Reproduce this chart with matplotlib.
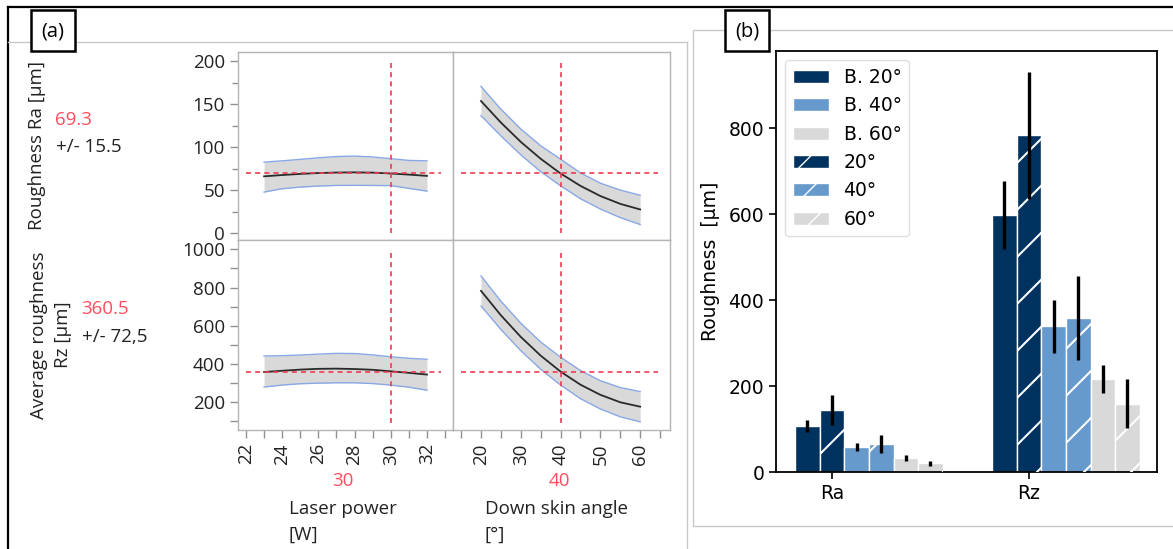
import numpy as np
import matplotlib.pyplot as plt
from matplotlib.lines import Line2D
from matplotlib.patches import Rectangle, Patch
from matplotlib.transforms import IdentityTransform
from matplotlib.ticker import MultipleLocator

# ---- panel (a): prediction profiler data ----
laser_power = [23, 24, 25, 26, 27, 28, 29, 30, 31, 32]
ra_lp_mean = [66.0, 67.5, 68.8, 69.8, 70.4, 70.6, 70.3, 69.3, 68.0, 66.5]
ra_lp_hi = [82.5, 84.0, 85.7, 87.5, 89.0, 89.5, 88.5, 86.5, 84.5, 84.0]
ra_lp_lo = [47.7, 51.6, 53.5, 54.7, 55.4, 55.5, 55.4, 55.2, 52.0, 48.8]
rz_lp_mean = [358, 365, 371, 375, 376, 374, 370, 362, 354, 345]
rz_lp_hi = [442, 444, 447, 452, 456, 455, 448, 438, 430, 425]
rz_lp_lo = [280, 290, 297, 300, 302, 302, 298, 290, 279, 263]

angle = [20, 25, 30, 35, 40, 45, 50, 55, 60]
ra_ang_mean = [153.5, 128.5, 106.0, 86.4, 69.3, 54.9, 43.1, 34.0, 27.5]
ra_ang_hi = [170.5, 144.0, 121.0, 101.5, 86.0, 70.0, 58.0, 50.0, 44.0]
ra_ang_lo = [136.5, 113.0, 91.0, 71.5, 55.0, 40.0, 28.0, 18.0, 10.0]
rz_ang_mean = [783, 655, 542, 444, 360.5, 292, 239, 200, 177]
rz_ang_hi = [861, 729, 614, 515, 436, 366, 313, 277, 256]
rz_ang_lo = [704, 581, 470, 373, 290, 219, 165, 124, 98]

lp_setting, ang_setting = 30, 40
ra_pred, ra_ci = 69.3, "15.5"
rz_pred, rz_ci = 360.5, "72,5"

# ---- panel (b): bar chart data ----
groups = ["Ra", "Rz"]
b20 = [107, 598]; b20_err = [15, 80]
s20 = [145, 784]; s20_err = [35, 148]
b40 = [58, 339]; b40_err = [9, 62]
s40 = [65, 358]; s40_err = [20, 98]
b60 = [32, 216]; b60_err = [7, 33]
s60 = [20, 159]; s60_err = [6, 57]

W, H = 1173, 549
fig = plt.figure(figsize=(W / 100, H / 100), dpi=100)
fig.patch.set_facecolor("white")


def box(x0, y0, x1, y1):
    return [x0 / W, 1 - y1 / H, (x1 - x0) / W, (y1 - y0) / H]


def fx(x):
    return x / W


def fy(y):
    return 1 - y / H


FA = ["Open Sans", "DejaVu Sans"]
FS = 13.5
RED = "#ff4d5e"
LINE_RED = "#f03a52"
TXT = "#222222"

# ---- frames / decorations ----
fig.add_artist(Line2D([fx(8), 1], [fy(7), fy(7)], color="black", lw=1.6))
fig.add_artist(Line2D([fx(8), fx(8)], [fy(7), 0], color="black", lw=1.6))
fig.add_artist(Line2D([fx(8), fx(687)], [fy(42), fy(42)], color="#c8c8c8", lw=1))
fig.add_artist(Line2D([fx(687), fx(687)], [fy(42), 0], color="#c8c8c8", lw=1))
fig.add_artist(Rectangle((fx(693), fy(526)), fx(1180 - 693), (526 - 30) / H,
                         transform=fig.transFigure, fc="none", ec="#c8c8c8", lw=1))
for lab, x0 in [("(a)", 31), ("(b)", 725)]:
    fig.add_artist(Rectangle((fx(x0), fy(51)), fx(44), 41 / H, transform=fig.transFigure,
                             fc="white", ec="black", lw=1.8, zorder=5))
    fig.text(fx(x0 + 22), fy(31), lab, ha="center", va="center", fontsize=14.5,
             family=FA, zorder=6)

# ---- profiler axes ----
ax_ra_lp = fig.add_axes(box(238, 52, 453, 240))
ax_ra_an = fig.add_axes(box(453, 52, 670, 240))
ax_rz_lp = fig.add_axes(box(238, 240, 453, 430))
ax_rz_an = fig.add_axes(box(453, 240, 670, 430))

panels = [
    (ax_ra_lp, laser_power, ra_lp_mean, ra_lp_hi, ra_lp_lo, lp_setting, ra_pred),
    (ax_ra_an, angle, ra_ang_mean, ra_ang_hi, ra_ang_lo, ang_setting, ra_pred),
    (ax_rz_lp, laser_power, rz_lp_mean, rz_lp_hi, rz_lp_lo, lp_setting, rz_pred),
    (ax_rz_an, angle, rz_ang_mean, rz_ang_hi, rz_ang_lo, ang_setting, rz_pred),
]
for ax, xs, m, hi, lo, xset, yset in panels:
    ax.fill_between(xs, lo, hi, color="#d9d9d9", lw=0)
    ax.plot(xs, hi, color="#88a8e6", lw=1)
    ax.plot(xs, lo, color="#88a8e6", lw=1)
    ax.plot(xs, m, color="#2a2a2a", lw=1.3)
    ax.axhline(yset, xmin=0.035, xmax=0.945, color=LINE_RED, lw=1.2, ls=(0, (3, 2.5)))
    ax.axvline(xset, ymin=0.035, ymax=0.94, color=LINE_RED, lw=1.2, ls=(0, (3, 2.5)))
    for s in ax.spines.values():
        s.set_color("#b4b4b4")
        s.set_linewidth(1)
    ax.tick_params(which="both", colors="#909090", labelcolor=TXT, labelsize=FS, width=1)
    ax.tick_params(which="major", length=6)
    ax.tick_params(which="minor", length=4)

for ax in (ax_ra_lp, ax_rz_lp):
    ax.set_xlim(21.56, 33.44)
for ax in (ax_ra_an, ax_rz_an):
    ax.set_xlim(12.96, 67.5)
for ax in (ax_ra_lp, ax_ra_an):
    ax.set_ylim(-8, 210.5)
for ax in (ax_rz_lp, ax_rz_an):
    ax.set_ylim(55, 1049)

ax_ra_lp.yaxis.set_major_locator(MultipleLocator(50))
ax_ra_lp.yaxis.set_minor_locator(MultipleLocator(25))
ax_rz_lp.set_yticks([200, 400, 600, 800, 1000])
ax_rz_lp.set_yticks([100, 300, 500, 700, 900], minor=True)
for ax in (ax_ra_an, ax_rz_an):
    ax.set_yticks([])
    ax.set_yticks([], minor=True)
for ax in (ax_ra_lp, ax_ra_an):
    ax.set_xticks([])
    ax.set_xticks([], minor=True)
ax_rz_lp.set_xticks([22, 24, 26, 28, 30, 32])
ax_rz_lp.set_xticks(list(range(23, 34, 2)), minor=True)
ax_rz_an.set_xticks([20, 30, 40, 50, 60])
ax_rz_an.set_xticks([15, 25, 35, 45, 55, 65], minor=True)
for ax in (ax_rz_lp, ax_rz_an):
    ax.tick_params(which="minor", length=6)
    for t in ax.get_xticklabels():
        t.set_rotation(90)
for ax in (ax_ra_lp, ax_ra_an, ax_rz_lp, ax_rz_an):
    for t in ax.get_xticklabels() + ax.get_yticklabels():
        t.set_family(FA)

# profiler text labels
fig.text(fx(37), fy(145), "Roughness Ra [µm]", rotation=90, ha="center", va="center",
         fontsize=FS, family=FA, color=TXT)
fig.text(fx(55), fy(120), f"{ra_pred}", ha="left", va="center", fontsize=FS, family=FA,
         color=RED)
fig.text(fx(56), fy(147), f"+/- {ra_ci}", ha="left", va="center", fontsize=FS, family=FA,
         color=TXT)
fig.text(fx(51), fy(335), "Average roughness\nRz [µm]", rotation=90, ha="center",
         va="center", multialignment="center", fontsize=FS, family=FA, color=TXT,
         linespacing=1.45)
fig.text(fx(81), fy(309), f"{rz_pred}", ha="left", va="center", fontsize=FS, family=FA,
         color=RED)
fig.text(fx(82), fy(337), f"+/- {rz_ci}", ha="left", va="center", fontsize=FS, family=FA,
         color=TXT)
fig.text(fx(343), fy(481), f"{lp_setting}", ha="center", va="center", fontsize=FS,
         family=FA, color=RED)
fig.text(fx(559), fy(481), f"{ang_setting}", ha="center", va="center", fontsize=FS,
         family=FA, color=RED)
fig.text(fx(289), fy(509), "Laser power", ha="left", va="center", fontsize=FS, family=FA,
         color=TXT)
fig.text(fx(289), fy(535), "[W]", ha="left", va="center", fontsize=FS, family=FA,
         color=TXT)
fig.text(fx(485), fy(509), "Down skin angle", ha="left", va="center", fontsize=FS,
         family=FA, color=TXT)
fig.text(fx(485), fy(535), "[°]", ha="left", va="center", fontsize=FS, family=FA,
         color=TXT)

# ---- panel (b): grouped bars ----
ax_b = fig.add_axes(box(776, 51, 1157, 472))
dark, mid, light = "#00325f", "#6699cc", "#d9d9d9"
series = [
    (b20, b20_err, dark, False),
    (s20, s20_err, dark, True),
    (b40, b40_err, mid, False),
    (s40, s40_err, mid, True),
    (b60, b60_err, light, False),
    (s60, s60_err, light, True),
]
w = 0.125
x = np.arange(len(groups))
ax_b.set_xlim(-0.284, 1.65)
ax_b.set_ylim(0, 980)
hatched = []
for i, (vals, errs, col, hat) in enumerate(series):
    bars = ax_b.bar(x + (i - 1) * w, vals, w, color=col, edgecolor="white", lw=1)
    ax_b.errorbar(x + (i - 1) * w, vals, yerr=errs, fmt="none", ecolor="black",
                  elinewidth=2.4, capsize=0, zorder=4)
    if hat:
        hatched.extend(bars.patches)

# sparse white diagonal hatch drawn by hand (default hatch is too dense)
S = 47
for p in hatched:
    (X0, Y0) = ax_b.transData.transform((p.get_x(), 0))
    (X1, Y1) = ax_b.transData.transform((p.get_x() + p.get_width(), p.get_height()))
    for k in range(int(np.floor((X0 - Y1) / S)) - 1, int(np.ceil((X1 - Y0) / S)) + 2):
        c = k * S + 20
        ln = Line2D([X0 - 5, X1 + 5], [X0 - 5 - c, X1 + 5 - c], color="white", lw=1.5,
                    transform=IdentityTransform(), zorder=3)
        ax_b.add_line(ln)
        ln.set_clip_path(p)

ax_b.set_xticks(x)
ax_b.set_xticklabels(groups)
ax_b.set_yticks([0, 200, 400, 600, 800])
ax_b.tick_params(labelsize=13.5, length=5, width=1.2)
ax_b.set_ylabel("Roughness  [µm]", fontsize=13.5, labelpad=6)
for s in ax_b.spines.values():
    s.set_linewidth(1.3)

handles = [
    Patch(facecolor=dark, edgecolor="white", label="B. 20°"),
    Patch(facecolor=mid, edgecolor="white", label="B. 40°"),
    Patch(facecolor=light, edgecolor="white", label="B. 60°"),
    Patch(facecolor=dark, edgecolor="white", hatch="/", label="20°"),
    Patch(facecolor=mid, edgecolor="white", hatch="/", label="40°"),
    Patch(facecolor=light, edgecolor="white", hatch="/", label="60°"),
]
ax_b.legend(handles=handles, loc="upper left", fontsize=13.5, handlelength=1.95,
            handleheight=0.7, handletextpad=0.75, labelspacing=0.5, edgecolor="#d8d8d8")

fig.savefig("out.png", dpi=100, facecolor="white")
